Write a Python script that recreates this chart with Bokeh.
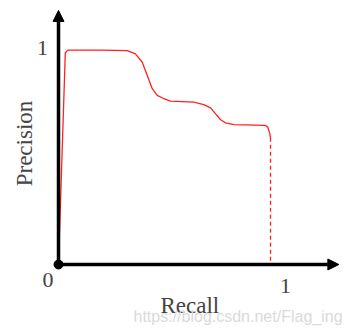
from bokeh.plotting import figure
from bokeh.models import Range1d, Arrow, NormalHead, Label
from bokeh.embed import file_html
from bokeh.resources import INLINE

# PR curve data
recall = [0.0, 0.030, 0.041, 0.185, 0.303, 0.339, 0.369, 0.391, 0.413, 0.435,
          0.464, 0.493, 0.596, 0.640, 0.670, 0.692, 0.714, 0.736, 0.772,
          0.912, 0.922, 0.931, 0.934]
precision = [0.0, 0.976, 0.988, 0.988, 0.986, 0.971, 0.932, 0.871, 0.810, 0.779,
             0.764, 0.753, 0.748, 0.737, 0.722, 0.694, 0.667, 0.653, 0.645,
             0.641, 0.633, 0.602, 0.584]
drop_x = [0.934, 0.934]
drop_y = [0.584, 0.0]
tick_labels = ["0", "1", "1"]

p = figure(width=349, height=328, output_backend="svg", toolbar_location=None,
           x_range=Range1d(-58 / 227, (349 - 58) / 227),
           y_range=Range1d((264 - 328) / 217, 264 / 217),
           min_border=0, min_border_left=0, min_border_right=0,
           min_border_top=0, min_border_bottom=0)
p.xaxis.visible = False
p.yaxis.visible = False
p.grid.visible = False
p.outline_line_color = None
p.background_fill_color = "white"
p.border_fill_color = "white"

# axes with arrows
p.add_layout(Arrow(end=NormalHead(size=11, fill_color="black", line_color="black"),
                   x_start=0, y_start=0, x_end=1.235, y_end=0,
                   line_width=3.5, line_color="black"))
p.add_layout(Arrow(end=NormalHead(size=11, fill_color="black", line_color="black"),
                   x_start=0, y_start=0, x_end=0, y_end=1.171,
                   line_width=3.5, line_color="black"))

# curve
p.line(recall, precision, line_color="#ff2020", line_width=1.3)
p.line(drop_x, drop_y, line_color="#ff2020", line_width=1.3, line_dash="4 3")

# origin dot
p.scatter([0], [0], size=9, fill_color="black", line_color="black")

serif = "Liberation Serif"
p.add_layout(Label(x=-0.0463, y=-0.0737, text=tick_labels[0], text_font=serif,
                   text_font_size="22px", text_align="center", text_baseline="middle"))
p.add_layout(Label(x=-0.0705, y=0.9977, text=tick_labels[1], text_font=serif,
                   text_font_size="22px", text_align="center", text_baseline="middle"))
p.add_layout(Label(x=1.0, y=-0.0968, text=tick_labels[2], text_font=serif,
                   text_font_size="22px", text_align="center", text_baseline="middle"))
p.add_layout(Label(x=(160 - 58) / 227, y=(264 - 305) / 217, text="Recall", text_font=serif,
                   text_font_size="23px", text_align="left", text_baseline="alphabetic"))
p.add_layout(Label(x=(24 - 58) / 227, y=(264 - 143) / 217, text="Precision", text_font=serif,
                   text_font_size="23px", text_align="center", text_baseline="middle",
                   angle=1.5707963))
p.add_layout(Label(x=(133 - 58) / 227, y=(264 - 316) / 217, text="https://blog.csdn.net/Flag_ing",
                   text_font="Liberation Sans", text_font_size="16px", text_color="#dadada",
                   text_align="left", text_baseline="alphabetic"))

open("out.html", "w").write(file_html(p, INLINE))
